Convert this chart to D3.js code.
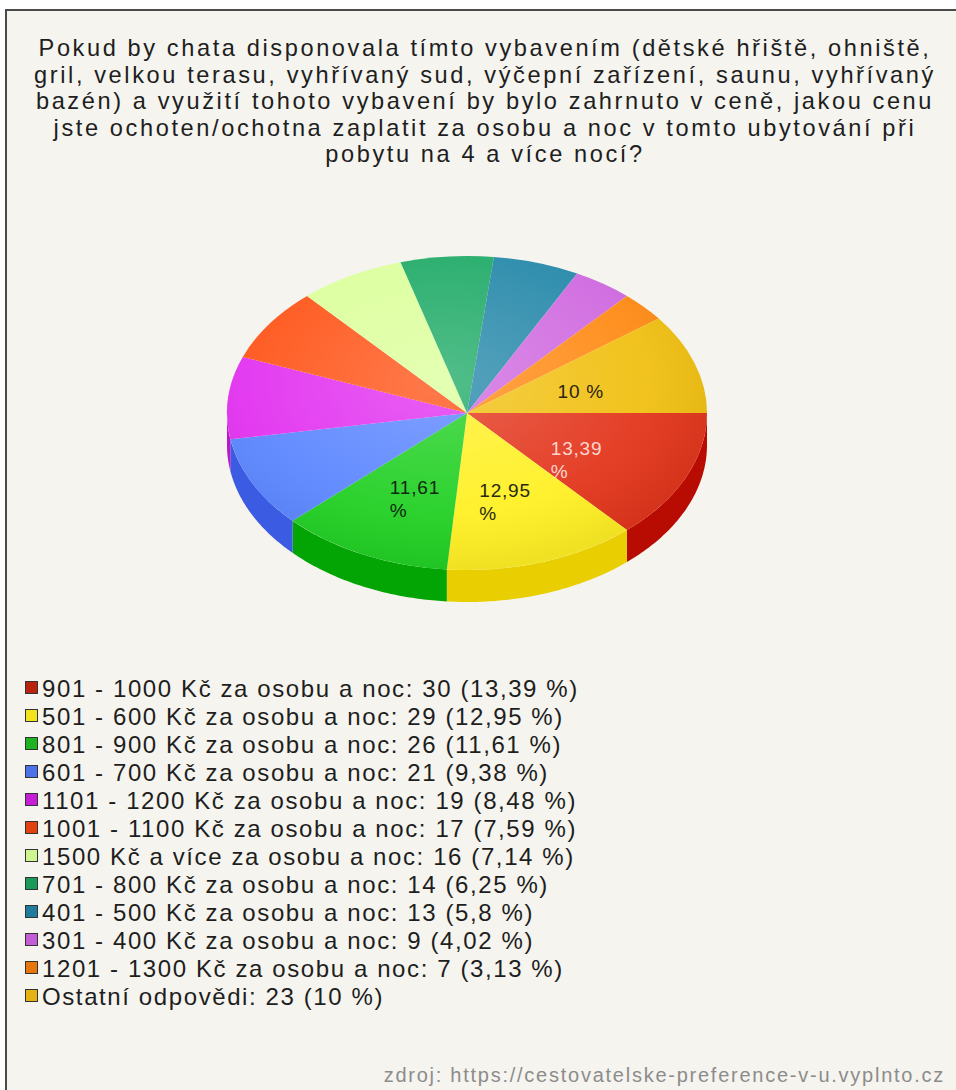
<!DOCTYPE html>
<html>
<head>
<meta charset="utf-8">
<script src="https://cdn.jsdelivr.net/npm/d3@7"></script>
<style>
  html, body { margin: 0; padding: 0; background: #ffffff; }
  svg { display: block; }
  text { font-family: "Liberation Sans", Arial, sans-serif; }
</style>
</head>
<body>
<svg id="chart" width="956" height="1090"></svg>
<script>
// Survey answers: price per person and night for a stay of 4+ nights
const titleLines = [
  "Pokud by chata disponovala tímto vybavením (dětské hřiště, ohniště,",
  "gril, velkou terasu, vyhřívaný sud, výčepní zařízení, saunu, vyhřívaný",
  "bazén) a využití tohoto vybavení by bylo zahrnuto v ceně, jakou cenu",
  "jste ochoten/ochotna zaplatit za osobu a noc v tomto ubytování při",
  "pobytu na 4 a více nocí?"
];

const categories = [
  "901 - 1000 Kč za osobu a noc",
  "501 - 600 Kč za osobu a noc",
  "801 - 900 Kč za osobu a noc",
  "601 - 700 Kč za osobu a noc",
  "1101 - 1200 Kč za osobu a noc",
  "1001 - 1100 Kč za osobu a noc",
  "1500 Kč a více za osobu a noc",
  "701 - 800 Kč za osobu a noc",
  "401 - 500 Kč za osobu a noc",
  "301 - 400 Kč za osobu a noc",
  "1201 - 1300 Kč za osobu a noc",
  "Ostatní odpovědi"
];
const counts = [30, 29, 26, 21, 19, 17, 16, 14, 13, 9, 7, 23];
const percents = ["13,39", "12,95", "11,61", "9,38", "8,48", "7,59", "7,14", "6,25", "5,8", "4,02", "3,13", "10"];

const topColors  = ["#e3361d", "#fff024", "#22d024", "#5b86ff", "#e232f0", "#ff5519", "#dcff9c", "#21ab68", "#2789aa", "#d06ae0", "#ff8b16", "#f1c012"];
const sideColors = ["#b80c02", "#e9cf02", "#02a504", "#3a5be2", "#b818c8", "#d83a06", "#b8e070", "#13884e", "#186a88", "#a84cbb", "#d86a06", "#cc9c06"];
const swatchColors = ["#b8220e", "#f3e31e", "#1fb322", "#4c72ea", "#c61ed6", "#e3410f", "#cff590", "#1a9a5a", "#1f7c9c", "#c45ed6", "#e8760f", "#e4b212"];
const labelColors = ["#ffd6d0", "#2a2a10", "#102a10", "#222", "#222", "#222", "#222", "#222", "#222", "#222", "#222", "#2a2410"];

const source = "zdroj: https://cestovatelske-preference-v-u.vyplnto.cz";

const svg = d3.select("#chart");
const defs = svg.append("defs");

// panel
svg.append("rect").attr("x", 6).attr("y", 10).attr("width", 1000).attr("height", 1200)
  .attr("fill", "#f5f4ee").attr("stroke", "#4a4a4a").attr("stroke-width", 2);

// title: one text block, one tspan per line
const titleText = svg.append("text")
  .attr("text-anchor", "middle")
  .attr("font-size", 23.6)
  .attr("letter-spacing", 2.6)
  .attr("fill", "#1e1e1e");
titleText.selectAll("tspan").data(titleLines).join("tspan")
  .attr("x", 485)
  .attr("y", (d, i) => 56 + i * 26.6)
  .text(d => d);

// 3D pie
const cx = 467, cy = 413, rx = 240, ry = 157, depth = 32;
const pie = d3.pie().sort(null).value(d => d)
  .startAngle(Math.PI / 2).endAngle(Math.PI / 2 + 2 * Math.PI);
const arcs = pie(counts);

// side walls for the front half of the ellipse
const wall = d3.area()
  .x(t => cx + rx * Math.cos(t))
  .y0(t => cy + ry * Math.sin(t))
  .y1(t => cy + ry * Math.sin(t) + depth);

const sidesG = svg.append("g");
arcs.forEach((a, i) => {
  const t0 = Math.max(a.startAngle - Math.PI / 2, 0);
  const t1 = Math.min(a.endAngle - Math.PI / 2, Math.PI);
  if (t1 <= t0) return;
  const ts = d3.range(0, 61).map(k => t0 + (t1 - t0) * k / 60);
  sidesG.append("path").attr("d", wall(ts)).attr("fill", sideColors[i]);
});

// top face: circular arcs squashed into an ellipse
const arcGen = d3.arc().innerRadius(0).outerRadius(rx);
const faceG = svg.append("g").attr("transform", `translate(${cx},${cy}) scale(1,${ry / rx})`);
faceG.selectAll("path").data(arcs).join("path")
  .attr("d", arcGen)
  .attr("fill", (d, i) => topColors[i]);

// soft highlight across the top face
const glow = defs.append("radialGradient").attr("id", "glow")
  .attr("cx", "45%").attr("cy", "40%").attr("r", "60%");
glow.append("stop").attr("offset", "0%").attr("stop-color", "#fff").attr("stop-opacity", 0.22);
glow.append("stop").attr("offset", "70%").attr("stop-color", "#fff").attr("stop-opacity", 0.05);
glow.append("stop").attr("offset", "100%").attr("stop-color", "#000").attr("stop-opacity", 0.06);
svg.append("ellipse").attr("cx", cx).attr("cy", cy).attr("rx", rx).attr("ry", ry)
  .attr("fill", "url(#glow)");

// value labels for the large slices
const labelsG = svg.append("g");
arcs.forEach((a, i) => {
  const pct = parseFloat(percents[i].replace(",", "."));
  if (pct < 10) return;
  const [px, py] = arcGen.centroid(a);
  const x = cx + px, y = cy + py * ry / rx;
  const lines = percents[i].includes(",") ? [percents[i], "%"] : [percents[i] + " %"];
  const g = labelsG.append("g");
  const tx = g.append("text").attr("font-size", 19).attr("letter-spacing", 0.8)
    .attr("fill", labelColors[i]);
  lines.forEach((l, k) => {
    tx.append("tspan").attr("x", 0).attr("y", k * 23).text(l);
  });
  const bb = g.node().getBBox();
  g.attr("transform", `translate(${x - bb.width / 2},${y + 10})`);
});

// legend
const legendG = svg.append("g");
categories.forEach((c, i) => {
  const y = 688 + i * 28;
  legendG.append("rect").attr("x", 25.5).attr("y", y - 6.5).attr("width", 12).attr("height", 12)
    .attr("fill", swatchColors[i]).attr("stroke", "#333").attr("stroke-width", 1);
  legendG.append("text").attr("x", 42).attr("y", y + 8.5)
    .attr("font-size", 24).attr("letter-spacing", 1.6).attr("fill", "#1e1e1e")
    .text(`${c}: ${counts[i]} (${percents[i]} %)`);
});

// source
svg.append("text").attr("x", 945).attr("y", 1082).attr("text-anchor", "end")
  .attr("font-size", 20).attr("letter-spacing", 1.75).attr("fill", "#8c8c8c")
  .text(source);
</script>
</body>
</html>
